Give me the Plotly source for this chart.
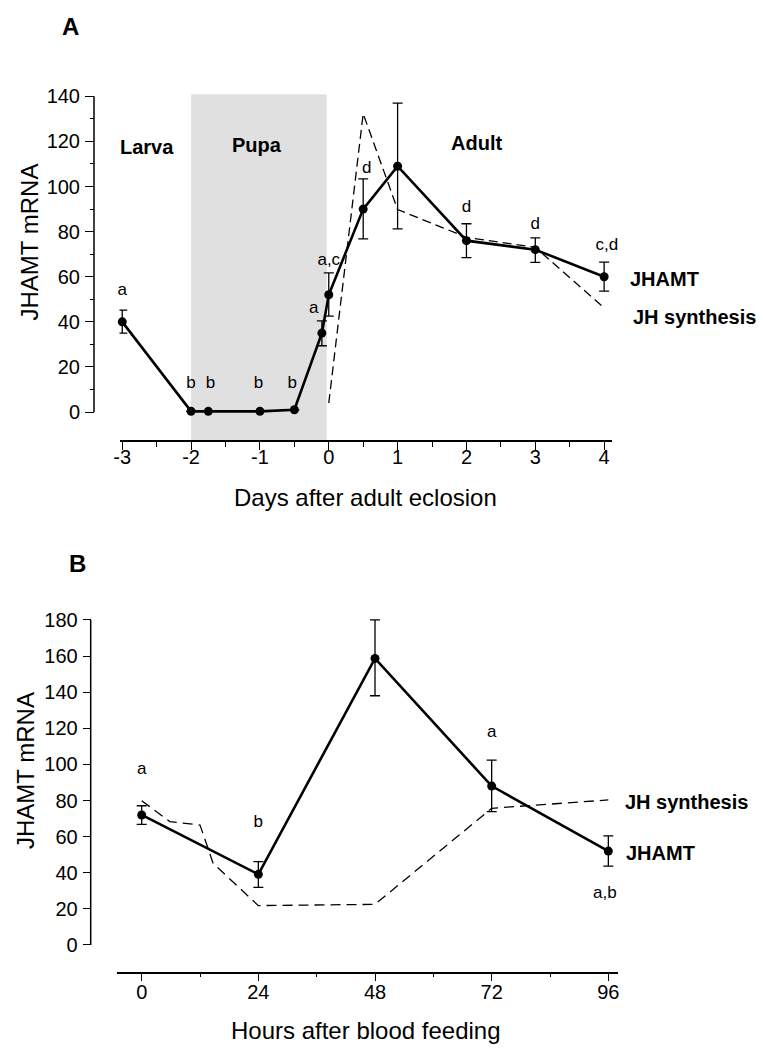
import plotly.graph_objects as go

W, H = 763, 1050
FONT = "Arial, Liberation Sans, sans-serif"

# ---------------- Panel A data ----------------
a_days = [-3, -2, -1.75, -1, -0.5, -0.1, 0, 0.5, 1, 2, 3, 4]
a_jhamt = [40, 0.3, 0.3, 0.3, 1, 35, 52, 90, 109, 76, 72, 60]
a_err_plus = [5.2, 0, 0, 0, 0, 5.4, 9.7, 13.4, 28, 7.5, 5.2, 6.5]
a_err_minus = [5.0, 0, 0, 0, 0, 5.6, 9.5, 13.2, 27.8, 7.5, 5.6, 6.4]
a_jh_days = [0, 0.5, 1, 2, 3, 4]
a_jh_synth = [4, 132.3, 89.8, 77.5, 73, 46.2]
a_letters = ["a", "b", "b", "b", "b", "a", "a,c", "d", "d", "d", "d", "c,d"]
a_letter_x = [-3, -2, -1.72, -1.02, -0.53, -0.22, 0, 0.55, 1.0, 2.0, 3.0, 4.04]
a_letter_y = [53.6, 12.4, 12.4, 12.4, 12.4, 45.6, 67, 108, 143.8, 90.5, 82.9, 73.7]
a_pupa_span = [-2, -0.03]
a_xticks = [-3, -2, -1, 0, 1, 2, 3, 4]
a_xminor = [-2.5, -1.5, -0.5, 0.5, 1.5, 2.5, 3.5]
a_yticks = [0, 20, 40, 60, 80, 100, 120, 140]
a_yminor = [10, 30, 50, 70, 90, 110, 130]

# ---------------- Panel B data ----------------
b_hours = [0, 24, 48, 72, 96]
b_jhamt = [72, 39.1, 158.7, 88, 52]
b_err_plus = [5.1, 7.0, 21.3, 14.4, 8.4]
b_err_minus = [5.2, 7.2, 20.7, 14.2, 8.3]
b_jh_hours = [0, 5.8, 12, 14.7, 24, 48, 72, 96]
b_jh_synth = [79.9, 68.3, 66.4, 45.2, 21.8, 22.5, 75.7, 80.3]
b_letters = ["a", "b", "c", "a", "a,b"]
b_letter_x = [0, 24, 48, 72, 95.3]
b_letter_y = [96.9, 67.7, 190, 117.6, 28.6]
b_xticks = [0, 24, 48, 72, 96]
b_xminor = [12, 36, 60, 84]
b_yticks = [0, 20, 40, 60, 80, 100, 120, 140, 160, 180]


def px(x):
    return x / W


def py(y):
    return 1 - y / H


fig = go.Figure()

# ---- Panel A traces ----
fig.add_trace(go.Scatter(
    x=a_jh_days, y=a_jh_synth, mode="lines",
    line=dict(color="black", width=1.3, dash="9px,5px"),
    xaxis="x", yaxis="y", showlegend=False, hoverinfo="skip"))
fig.add_trace(go.Scatter(
    x=a_days, y=a_jhamt, mode="lines+markers",
    line=dict(color="black", width=2.6),
    marker=dict(color="black", size=9),
    error_y=dict(type="data", array=a_err_plus, arrayminus=a_err_minus,
                 color="black", thickness=1.3, width=5),
    cliponaxis=False, xaxis="x", yaxis="y", showlegend=False))
fig.add_trace(go.Scatter(
    x=a_letter_x, y=a_letter_y, mode="text", text=a_letters,
    textposition="middle center", textfont=dict(family=FONT, size=17, color="black"),
    cliponaxis=False, xaxis="x", yaxis="y", showlegend=False, hoverinfo="skip"))

# ---- Panel B traces ----
fig.add_trace(go.Scatter(
    x=b_jh_hours, y=b_jh_synth, mode="lines",
    line=dict(color="black", width=1.3, dash="10px,6px"),
    xaxis="x2", yaxis="y2", showlegend=False, hoverinfo="skip"))
fig.add_trace(go.Scatter(
    x=b_hours, y=b_jhamt, mode="lines+markers",
    line=dict(color="black", width=2.6),
    marker=dict(color="black", size=9),
    error_y=dict(type="data", array=b_err_plus, arrayminus=b_err_minus,
                 color="black", thickness=1.3, width=5),
    cliponaxis=False, xaxis="x2", yaxis="y2", showlegend=False))
fig.add_trace(go.Scatter(
    x=b_letter_x, y=b_letter_y, mode="text", text=b_letters,
    textposition="middle center", textfont=dict(family=FONT, size=17, color="black"),
    cliponaxis=False, xaxis="x2", yaxis="y2", showlegend=False, hoverinfo="skip"))

# ---- Shapes ----
shapes = [
    # pupa shading
    dict(type="rect", xref="x", yref="paper", x0=a_pupa_span[0], x1=a_pupa_span[1],
         y0=py(440), y1=py(94.3), fillcolor="#e0e0e0", line=dict(width=0), layer="below"),
    # y axis lines (drawn only over the labelled range)
    dict(type="line", xref="paper", yref="y", x0=px(94), x1=px(94), y0=0, y1=140,
         line=dict(color="black", width=1.5)),
    dict(type="line", xref="paper", yref="y2", x0=px(90.7), x1=px(90.7), y0=0, y1=180,
         line=dict(color="black", width=1.5)),
]

tickfont = dict(family=FONT, size=20, color="black")


def ann(text, x, y, size=20, xanchor="center", angle=0):
    return dict(text=text, x=px(x), y=py(y), xref="paper", yref="paper",
                xanchor=xanchor, yanchor="middle", textangle=angle,
                showarrow=False, font=dict(family=FONT, size=size, color="black"))


annotations = [
    ann("<b>A</b>", 70, 27, 24),
    ann("<b>B</b>", 77, 563, 24),
    ann("<b>Larva</b>", 147, 147),
    ann("<b>Pupa</b>", 257, 145),
    ann("<b>Adult</b>", 477, 143),
    ann("<b>JHAMT</b>", 628, 279, xanchor="left"),
    ann("<b>JH synthesis</b>", 631, 317, xanchor="left"),
    ann("<b>JH synthesis</b>", 622.7, 801.7, xanchor="left"),
    ann("<b>JHAMT</b>", 624.3, 853.3, xanchor="left"),
    ann("JHAMT mRNA", 28.5, 242, 24, angle=-90),
    ann("JHAMT mRNA", 25, 771, 24, angle=-90),
    ann("Days after adult eclosion", 365, 497, 24),
    ann("Hours after blood feeding", 366, 1030, 24),
]

fig.update_layout(
    width=W, height=H,
    margin=dict(l=0, r=0, t=0, b=0, autoexpand=False),
    paper_bgcolor="white", plot_bgcolor="rgba(0,0,0,0)",
    font=dict(family=FONT, color="black"),
    shapes=shapes, annotations=annotations,
    xaxis=dict(domain=[px(119.5), px(611.7)], range=[-3.04, 4.11], anchor="y",
               showline=True, linecolor="black", linewidth=1.5, showgrid=False, zeroline=False,
               tickmode="array", tickvals=a_xticks, ticktext=[str(v) for v in a_xticks],
               ticks="outside", ticklen=8, tickwidth=1.3, tickcolor="black",
               tickfont=tickfont, ticklabelstandoff=-10, automargin=False,
               minor=dict(tickmode="array", tickvals=a_xminor, ticks="outside", ticklen=5,
                          tickwidth=1.3, tickcolor="black", showgrid=False)),
    yaxis=dict(domain=[py(440), py(94.3)], range=[-12.4, 140.9], anchor="free", position=px(94),
               showline=False, showgrid=False, zeroline=False, automargin=False,
               tickmode="array", tickvals=a_yticks, ticks="outside", ticklen=9, tickwidth=1.3,
               tickcolor="black", tickfont=tickfont, ticklabelstandoff=1,
               minor=dict(tickmode="array", tickvals=a_yminor, ticks="outside", ticklen=4,
                          tickwidth=1.3, tickcolor="black", showgrid=False)),
    xaxis2=dict(domain=[px(116.7), px(618.3)], range=[-5.14, 98.05], anchor="y2",
                showline=True, linecolor="black", linewidth=1.5, showgrid=False, zeroline=False,
                tickmode="array", tickvals=b_xticks, ticks="outside", ticklen=8, tickwidth=1.3,
                tickcolor="black", tickfont=tickfont, ticklabelstandoff=-6, automargin=False,
                minor=dict(tickmode="array", tickvals=b_xminor, ticks="outside", ticklen=4,
                           tickwidth=1.3, tickcolor="black", showgrid=False)),
    yaxis2=dict(domain=[py(971.7), py(614.5)], range=[-14.8, 183], anchor="free", position=px(90.7),
                showline=False, showgrid=False, zeroline=False, automargin=False,
                tickmode="array", tickvals=b_yticks, ticks="outside", ticklen=8, tickwidth=1.3,
                tickcolor="black", tickfont=tickfont, ticklabelstandoff=1),
)

fig.write_html("out.html", config={"displayModeBar": False},
               post_script="document.body.style.margin='0';")
